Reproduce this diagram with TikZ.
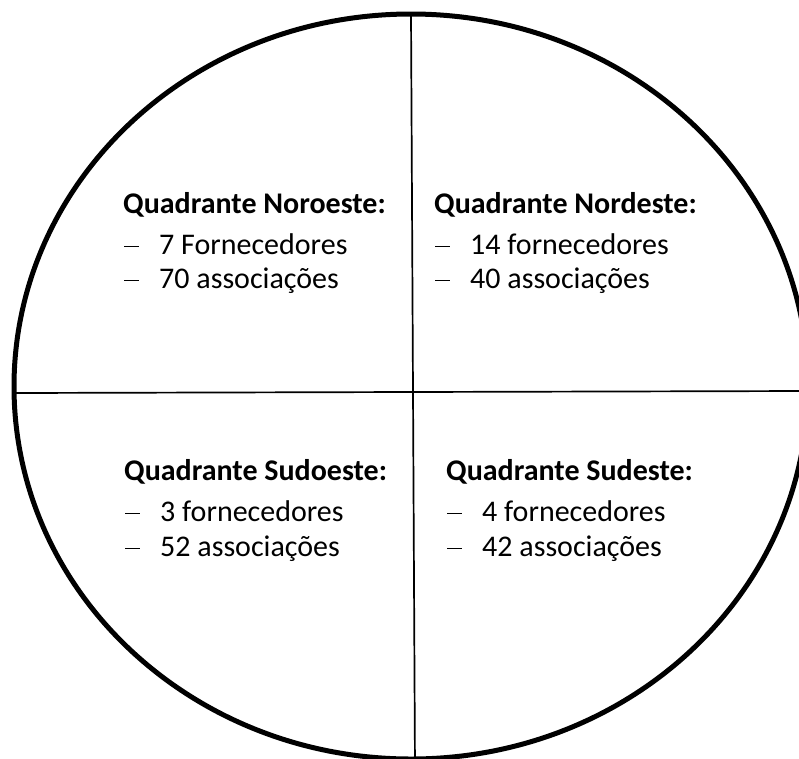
\documentclass[tikz,border=0pt]{standalone}
\usepackage{fontspec}
\setmainfont{Carlito}
\newcommand\listdash{\makebox[36pt][l]{\hspace{1pt}\raisebox{6.6pt}{\rule{15pt}{1.1pt}}}}
\begin{document}
\begin{tikzpicture}[x=1pt,y=-1pt,
  hdr/.style={anchor=base west,inner sep=0pt,font=\fontsize{30}{36}\selectfont\bfseries},
  entry/.style={anchor=base west,inner sep=0pt,font=\fontsize{30}{36}\selectfont},
  rim/.style={line width=5pt},
  divider/.style={line width=1.7pt}]
\useasboundingbox (0,0) rectangle (799,758);
\clip (0,0) rectangle (799,758);
\fill[white] (0,0) rectangle (799,758);

% outer ring
\coordinate (c) at (411,386.5);
\draw[rim] (c) ellipse [x radius=397, y radius=372.5];

% cross dividing the four quadrants
\coordinate (top) at (411,14);
\coordinate (bot) at (415,770);
\coordinate (lft) at (14.5,393);
\coordinate (rgt) at (805,391);
\draw[divider] (top) -- (bot);
\draw[divider] (lft) -- (rgt);

% north-west
\node[hdr]   (nwh) at (123,213) {Quadrante Noroeste:};
\node[entry] (nw1) at (123,254) {\listdash 7 Fornecedores};
\node[entry] (nw2) at (123,288) {\listdash 70 associações};

% north-east
\node[hdr]   (neh) at (434,213) {Quadrante Nordeste:};
\node[entry] (ne1) at (434,254) {\listdash 14 fornecedores};
\node[entry] (ne2) at (434,288) {\listdash 40 associações};

% south-west
\node[hdr]   (swh) at (124,480) {Quadrante Sudoeste:};
\node[entry] (sw1) at (124,521) {\listdash 3 fornecedores};
\node[entry] (sw2) at (124,556) {\listdash 52 associações};

% south-east
\node[hdr]   (seh) at (446,480) {Quadrante Sudeste:};
\node[entry] (se1) at (446,521) {\listdash 4 fornecedores};
\node[entry] (se2) at (446,556) {\listdash 42 associações};
\end{tikzpicture}
\end{document}
